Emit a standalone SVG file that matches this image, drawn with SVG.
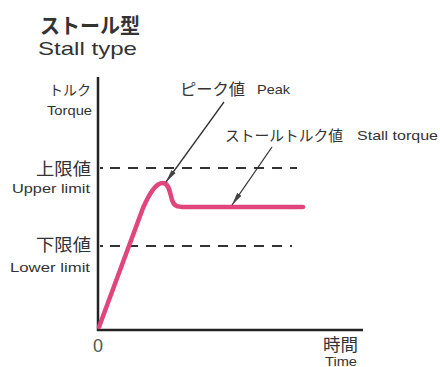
<svg xmlns="http://www.w3.org/2000/svg" width="440" height="367" viewBox="0 0 440 367">
  <defs>
    <style>
      .jp { font-family: "Noto Sans CJK JP", "Noto Sans", sans-serif; fill: #333; }
      .en { font-family: "Liberation Sans", "DejaVu Sans", sans-serif; fill: #333; }
      .axis { stroke: #222; stroke-width: 2.5; fill: none; }
      .dash { stroke: #333; stroke-width: 2; stroke-dasharray: 10 8; fill: none; }
      .tick { stroke: #333; stroke-width: 2; fill: none; }
      .curve { stroke: #e0467c; stroke-width: 4.5; fill: none; stroke-linecap: round; stroke-linejoin: round; }
      .lead { stroke: #333; stroke-width: 1.3; fill: none; }
    </style>
    <marker id="ah" viewBox="-13 -3 14 6" refX="0" refY="0" markerWidth="14" markerHeight="6" markerUnits="userSpaceOnUse" orient="auto">
      <path d="M0,0 L-13,-2.6 L-13,2.6 Z" fill="#444"/>
    </marker>
  </defs>
  <rect width="440" height="367" fill="#fff"/>

  <g id="title">
    <text class="jp" x="40" y="33" font-size="21" font-weight="bold" textLength="100" lengthAdjust="spacingAndGlyphs">ストール型</text>
    <text class="en" x="38" y="55" font-size="18.5" textLength="99" lengthAdjust="spacingAndGlyphs">Stall type</text>
  </g>

  <g id="axes">
    <line class="axis" x1="98" y1="77" x2="98" y2="331"/>
    <line class="axis" x1="97" y1="330" x2="363" y2="330"/>
  </g>

  <g id="limits">
    <line class="tick" x1="100" y1="168" x2="103" y2="168"/>
    <line class="dash" x1="110" y1="168" x2="297" y2="168"/>
    <line class="tick" x1="100" y1="246" x2="103" y2="246"/>
    <line class="dash" x1="110" y1="246" x2="292" y2="246"/>
  </g>

  <g id="curve">
    <path class="curve" d="M99,327 L143,208 C150,192 156,183 163,183 C169,183 170,193 172,200 C174,206 177,207 185,207 L303,207"/>
  </g>

  <g id="connectors">
    <line class="lead" x1="224" y1="102" x2="166" y2="182" marker-end="url(#ah)"/>
    <line class="lead" x1="272" y1="147" x2="232" y2="205" marker-end="url(#ah)"/>
  </g>

  <g id="labels">
    <text class="jp" x="91" y="95" font-size="14" text-anchor="end">トルク</text>
    <text class="en" x="47" y="115" font-size="13" textLength="45" lengthAdjust="spacingAndGlyphs">Torque</text>
    <text class="jp" x="36" y="175" font-size="17" textLength="55" lengthAdjust="spacingAndGlyphs">上限値</text>
    <text class="en" x="12" y="193" font-size="13" textLength="78" lengthAdjust="spacingAndGlyphs">Upper limit</text>
    <text class="jp" x="36" y="251" font-size="17" textLength="55" lengthAdjust="spacingAndGlyphs">下限値</text>
    <text class="en" x="10" y="272" font-size="13" textLength="80" lengthAdjust="spacingAndGlyphs">Lower limit</text>
    <text class="jp" x="180" y="95" font-size="16" textLength="65" lengthAdjust="spacingAndGlyphs">ピーク値</text>
    <text class="en" x="257" y="94" font-size="13" textLength="33" lengthAdjust="spacingAndGlyphs">Peak</text>
    <text class="jp" x="225" y="141" font-size="15" textLength="118" lengthAdjust="spacingAndGlyphs">ストールトルク値</text>
    <text class="en" x="357" y="140" font-size="13" textLength="81" lengthAdjust="spacingAndGlyphs">Stall torque</text>
    <text class="en" x="98" y="352" font-size="18" text-anchor="middle" style="fill:#555">0</text>
    <text class="jp" x="323" y="351" font-size="17" textLength="35" lengthAdjust="spacingAndGlyphs">時間</text>
    <text class="en" x="325" y="366" font-size="12" textLength="32" lengthAdjust="spacingAndGlyphs">Time</text>
  </g>
</svg>
